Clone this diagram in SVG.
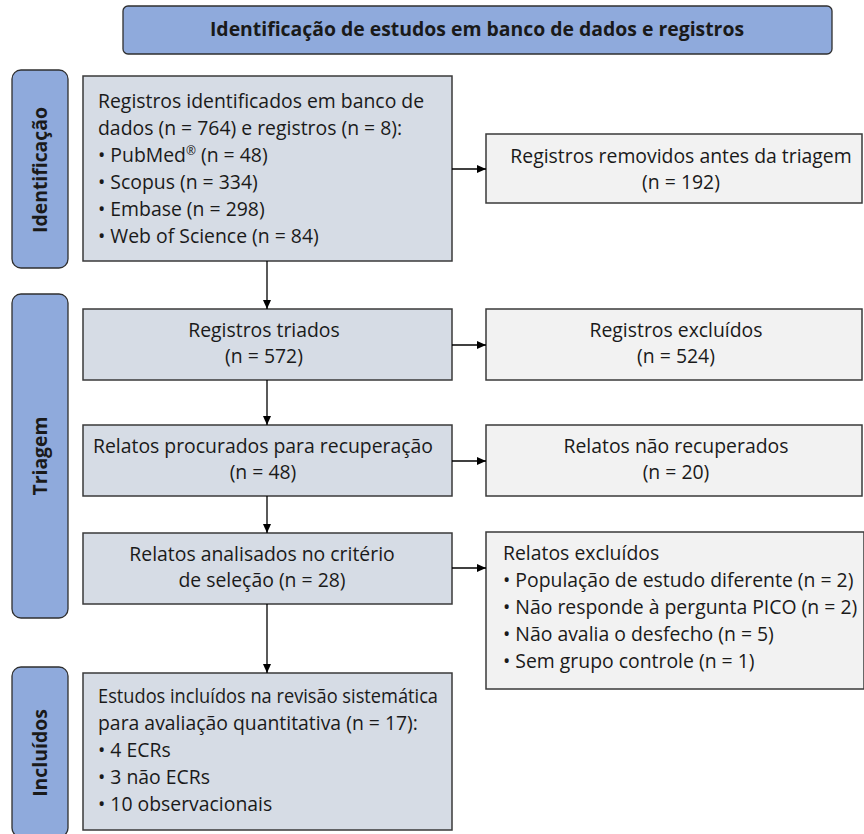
<svg xmlns="http://www.w3.org/2000/svg" width="864" height="834" viewBox="0 0 864 834">
<style>
text{font-family:"Open Sans","Liberation Sans",sans-serif;fill:#1a1a1a;font-size:19.4px}
.hdr{fill:#8faadc;stroke:#2f2f2f;stroke-width:1.3}
.side{fill:#8faadc;stroke:#2f2f2f;stroke-width:1.3}
.main{fill:#d6dce5;stroke:#3a3a3a;stroke-width:1.5}
.right{fill:#f2f2f2;stroke:#3a3a3a;stroke-width:1.5}
.b{font-weight:bold}
.c{text-anchor:middle}
.con{stroke:#000;stroke-width:1.3;fill:none}
</style>
<defs>
<marker id="ah" markerWidth="10" markerHeight="10" refX="9" refY="5" orient="auto" markerUnits="userSpaceOnUse">
<path d="M0,1 L9,5 L0,9 Z" fill="#000"/>
</marker>
</defs>
<g id="header">
<rect class="hdr" x="123" y="6" width="709" height="48" rx="5"/>
<text class="b c" x="477" y="36" font-size="18.6">Identificação de estudos em banco de dados e registros</text>
</g>
<g id="side-identificacao">
<rect class="side" x="12" y="70" width="56" height="198" rx="9"/>
<text class="b c" transform="translate(47,170) rotate(-90)" font-size="18.5">Identificação</text>
</g>
<g id="side-triagem">
<rect class="side" x="12" y="294" width="56" height="324" rx="9"/>
<text class="b c" transform="translate(47,456) rotate(-90)" font-size="18.5">Triagem</text>
</g>
<g id="side-incluidos">
<rect class="side" x="12" y="667" width="56" height="170" rx="9"/>
<text class="b c" transform="translate(47,753) rotate(-90)" font-size="18.5">Incluídos</text>
</g>
<g id="identificados">
<rect class="main" x="83" y="76" width="369" height="185"/>
<text x="98" y="108">Registros identificados em banco de</text>
<text x="98" y="135">dados (n = 764) e registros (n = 8):</text>
<text x="98" y="162">• PubMed<tspan font-size="12" dy="-7">®</tspan><tspan dy="7"> (n = 48)</tspan></text>
<text x="98" y="189">• Scopus (n = 334)</text>
<text x="98" y="216">• Embase (n = 298)</text>
<text x="98" y="243">• Web of Science (n = 84)</text>
</g>
<g id="removidos">
<rect class="right" x="486" y="134" width="376" height="69"/>
<text class="c" x="681" y="163">Registros removidos antes da triagem</text>
<text class="c" x="681" y="189">(n = 192)</text>
</g>
<g id="triados">
<rect class="main" x="83" y="309" width="369" height="71"/>
<text class="c" x="264" y="337">Registros triados</text>
<text class="c" x="264" y="363">(n = 572)</text>
</g>
<g id="excluidos">
<rect class="right" x="486" y="309" width="376" height="71"/>
<text class="c" x="676" y="337">Registros excluídos</text>
<text class="c" x="676" y="363">(n = 524)</text>
</g>
<g id="procurados">
<rect class="main" x="83" y="425" width="369" height="71"/>
<text class="c" x="263" y="453">Relatos procurados para recuperação</text>
<text class="c" x="263" y="479">(n = 48)</text>
</g>
<g id="nao-recuperados">
<rect class="right" x="486" y="425" width="376" height="71"/>
<text class="c" x="676" y="453">Relatos não recuperados</text>
<text class="c" x="676" y="479">(n = 20)</text>
</g>
<g id="analisados">
<rect class="main" x="83" y="533" width="369" height="71"/>
<text class="c" x="262" y="561">Relatos analisados no critério</text>
<text class="c" x="262" y="587">de seleção (n = 28)</text>
</g>
<g id="relatos-excluidos">
<rect class="right" x="486" y="532" width="378" height="157"/>
<text x="503" y="560">Relatos excluídos</text>
<text x="503" y="587">• População de estudo diferente (n = 2)</text>
<text x="503" y="614">• Não responde à pergunta PICO (n = 2)</text>
<text x="503" y="641">• Não avalia o desfecho (n = 5)</text>
<text x="503" y="668">• Sem grupo controle (n = 1)</text>
</g>
<g id="incluidos">
<rect class="main" x="83" y="673" width="369" height="157"/>
<text x="98" y="703" textLength="340" lengthAdjust="spacingAndGlyphs">Estudos incluídos na revisão sistemática</text>
<text x="98" y="730">para avaliação quantitativa (n = 17):</text>
<text x="98" y="757">• 4 ECRs</text>
<text x="98" y="784">• 3 não ECRs</text>
<text x="98" y="811">• 10 observacionais</text>
</g>
<g id="connectors">
<line class="con" x1="267" y1="261" x2="267" y2="309" marker-end="url(#ah)"/>
<line class="con" x1="267" y1="380" x2="267" y2="425" marker-end="url(#ah)"/>
<line class="con" x1="267" y1="496" x2="267" y2="533" marker-end="url(#ah)"/>
<line class="con" x1="267" y1="604" x2="267" y2="673" marker-end="url(#ah)"/>
<line class="con" x1="452" y1="169" x2="486" y2="169" marker-end="url(#ah)"/>
<line class="con" x1="452" y1="345" x2="486" y2="345" marker-end="url(#ah)"/>
<line class="con" x1="452" y1="461" x2="486" y2="461" marker-end="url(#ah)"/>
<line class="con" x1="452" y1="568" x2="486" y2="568" marker-end="url(#ah)"/>
</g>
</svg>
